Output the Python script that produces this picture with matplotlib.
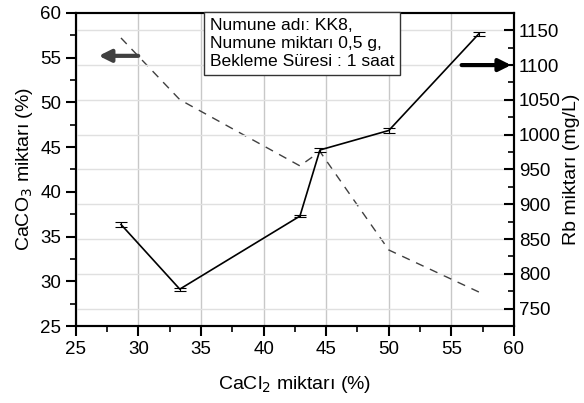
import numpy as np
import matplotlib.pyplot as plt
from matplotlib.ticker import MultipleLocator

plt.rcParams['font.family'] = ['Liberation Sans', 'DejaVu Sans']

# data
cacl2 = [28.6, 33.3, 42.9, 44.5, 50.0, 57.2]
caco3 = [57.2, 50.3, 42.9, 44.5, 33.5, 28.8]
rb = [871, 778, 883, 978, 1006, 1145]
rb_err = [3, 2, 2, 3, 3, 3]
info_lines = ['Numune adı: KK8,', 'Numune miktarı 0,5 g,', 'Bekleme Süresi : 1 saat']

fig = plt.figure(figsize=(5.84, 4.03), dpi=100)
ax = fig.add_axes([0.130, 0.191, 0.750, 0.777])
ax2 = ax.twinx()

ax.plot(cacl2, caco3, color='#404040', lw=1.0, ls=(0, (6, 5)))
ax2.errorbar(cacl2, rb, yerr=rb_err, color='black', lw=1.2, capsize=4,
             elinewidth=0.8, capthick=0.8)

ax.set_xlim(25, 60)
ax.set_ylim(25, 60)
ax2.set_ylim(725, 1175)
ax.xaxis.set_major_locator(MultipleLocator(5))
ax.xaxis.set_minor_locator(MultipleLocator(2.5))
ax.yaxis.set_major_locator(MultipleLocator(5))
ax.yaxis.set_minor_locator(MultipleLocator(2.5))
ax2.yaxis.set_major_locator(MultipleLocator(50))
ax2.yaxis.set_minor_locator(MultipleLocator(25))

# grid: verticals from x ticks, horizontals from right axis
ax.xaxis.grid(True, color='#c8c8c8', lw=1.0)
ax2.yaxis.grid(True, color='#e0e0e0', lw=1.0)
ax.set_axisbelow(True)
ax2.set_axisbelow(True)

for a in (ax, ax2):
    for s in a.spines.values():
        s.set_linewidth(1.5)
ax.tick_params(axis='both', which='major', direction='out', length=7, width=1.5,
               labelsize=13.5, top=False)
ax.tick_params(axis='both', which='minor', direction='out', length=4, width=1.2)
ax2.tick_params(axis='y', which='major', direction='in', length=7, width=1.5,
                labelsize=13.5)
ax2.tick_params(axis='y', which='minor', direction='in', length=4, width=1.2)

ax.set_xlabel('CaCl$_2$ miktarı (%)', fontsize=14, labelpad=12)
ax.set_ylabel('CaCO$_3$ miktarı (%)', fontsize=14, labelpad=4)
ax2.set_ylabel('Rb miktarı (mg/L)', fontsize=14, labelpad=2)

# arrows showing which axis belongs to which curve
ax.annotate('', xy=(26.6, 55.2), xytext=(30.2, 55.2),
            arrowprops=dict(arrowstyle='-|>', color='#404040', lw=3,
                            mutation_scale=18))
ax2.annotate('', xy=(60.0, 1100), xytext=(55.6, 1100),
             arrowprops=dict(arrowstyle='-|>', color='black', lw=3,
                             mutation_scale=18))

ax2.text(35.7, 59.4, '\n'.join(info_lines), transform=ax.transData,
         fontsize=12.6, va='top', ha='left', linespacing=1.25, zorder=10,
         bbox=dict(boxstyle='square,pad=0.35', fc='white', ec='#333333', lw=1.0))

fig.savefig('out.png', dpi=100)
